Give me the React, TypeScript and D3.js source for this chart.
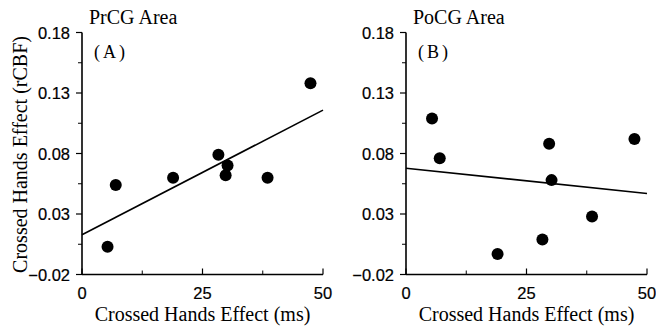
import React, { useRef, useEffect } from 'react';
import * as d3 from 'd3';

// crossed-hands effect (ms) per subject, with rCBF effect for each area
const prcgX = [5.3, 7.0, 18.9, 28.3, 30.2, 29.8, 38.5, 47.4];
const prcgY = [0.003, 0.054, 0.06, 0.079, 0.07, 0.062, 0.06, 0.138];
const pocgX = [5.4, 7.0, 19.0, 28.3, 29.7, 30.2, 38.6, 47.4];
const pocgY = [0.109, 0.076, -0.003, 0.009, 0.088, 0.058, 0.028, 0.092];

const yMajor = [-0.02, 0.03, 0.08, 0.13, 0.18];
const yMinor = [0.005, 0.055, 0.105, 0.155];
const xMajor = [0, 25, 50];
const xMinor = [12.5, 37.5];

const panels = [
    { title: 'PrCG Area', tag: 'A', xs: prcgX, ys: prcgY, left: 82, yLabel: true },
    { title: 'PoCG Area', tag: 'B', xs: pocgX, ys: pocgY, left: 406, yLabel: false },
];

const fit = (xs: number[], ys: number[]) => {
    const mx = d3.mean(xs)!;
    const my = d3.mean(ys)!;
    const sxy = d3.sum(xs, (x, i) => (x - mx) * (ys[i] - my));
    const sxx = d3.sum(xs, x => (x - mx) * (x - mx));
    const b = sxy / sxx;
    return { a: my - b * mx, b };
};

export default function App() {
    const svgRef = useRef<SVGSVGElement | null>(null);

    useEffect(() => {
        if (!svgRef.current) return;
        const svg = d3.select(svgRef.current);
        svg.selectAll('*').remove();

        const serif = 'Liberation Serif, Times New Roman, serif';
        const sans = 'Liberation Sans, Arial, Helvetica, sans-serif';
        const plotW = 241;
        const top = 32.5;
        const bottom = 274.5;

        panels.forEach(p => {
            const x = d3.scaleLinear().domain([0, 50]).range([p.left, p.left + plotW]);
            const y = d3.scaleLinear().domain([-0.02, 0.18]).range([bottom, top]);
            const g = svg.append('g');

            // axes lines
            g.append('line')
                .attr('x1', x(0)).attr('x2', x(0))
                .attr('y1', y(0.18)).attr('y2', y(-0.02))
                .attr('stroke', '#000').attr('stroke-width', 1.6);
            g.append('line')
                .attr('x1', x(0)).attr('x2', x(50))
                .attr('y1', y(-0.02)).attr('y2', y(-0.02))
                .attr('stroke', '#000').attr('stroke-width', 1.6);

            // y ticks (outward)
            g.selectAll('.ymaj').data(yMajor).join('line')
                .attr('x1', x(0) - 6).attr('x2', x(0))
                .attr('y1', d => y(d)).attr('y2', d => y(d))
                .attr('stroke', '#000').attr('stroke-width', 1.2);
            g.selectAll('.ymin').data(yMinor).join('line')
                .attr('x1', x(0) - 4).attr('x2', x(0))
                .attr('y1', d => y(d)).attr('y2', d => y(d))
                .attr('stroke', '#000').attr('stroke-width', 1);
            g.selectAll('.ylab').data(yMajor).join('text')
                .attr('x', x(0) - 12).attr('y', d => y(d) + 6)
                .attr('text-anchor', 'end')
                .attr('font-family', sans).attr('font-size', 16.5)
                .attr('stroke', '#000').attr('stroke-width', 0.2)
                .text(d => d3.format('.2f')(d));

            // x ticks (inward)
            g.selectAll('.xmaj').data(xMajor).join('line')
                .attr('x1', d => x(d)).attr('x2', d => x(d))
                .attr('y1', y(-0.02)).attr('y2', y(-0.02) - 6)
                .attr('stroke', '#000').attr('stroke-width', 1.2);
            g.selectAll('.xmin').data(xMinor).join('line')
                .attr('x1', d => x(d)).attr('x2', d => x(d))
                .attr('y1', y(-0.02)).attr('y2', y(-0.02) - 4)
                .attr('stroke', '#000').attr('stroke-width', 1);
            g.selectAll('.xlab').data(xMajor).join('text')
                .attr('x', d => x(d)).attr('y', 299)
                .attr('text-anchor', 'middle')
                .attr('font-family', sans).attr('font-size', 16.5)
                .attr('stroke', '#000').attr('stroke-width', 0.2)
                .text(d => String(d));

            // axis title
            g.append('text')
                .attr('x', x(25)).attr('y', 321)
                .attr('text-anchor', 'middle')
                .attr('font-family', serif).attr('font-size', 20)
                .text('Crossed Hands Effect (ms)');

            if (p.yLabel) {
                g.append('text')
                    .attr('transform', `translate(27, ${(top + bottom) / 2 + 1}) rotate(-90)`)
                    .attr('text-anchor', 'middle')
                    .attr('font-family', serif).attr('font-size', 20)
                    .text('Crossed Hands Effect (rCBF)');
            }

            // title and tag
            g.append('text')
                .attr('x', x(0) + 7).attr('y', 24)
                .attr('font-family', serif).attr('font-size', 20)
                .text(p.title);
            const tag = g.append('text')
                .attr('x', x(0) + 12).attr('y', 58)
                .attr('font-family', serif).attr('font-size', 18);
            tag.append('tspan').text('(');
            tag.append('tspan').attr('dx', 3).text(p.tag);
            tag.append('tspan').attr('dx', 3).text(')');

            // regression line
            const { a, b } = fit(p.xs, p.ys);
            g.append('line')
                .attr('x1', x(0)).attr('y1', y(a))
                .attr('x2', x(50)).attr('y2', y(a + b * 50))
                .attr('stroke', '#000').attr('stroke-width', 1.6);

            // points
            g.selectAll('circle').data(p.xs).join('circle')
                .attr('cx', d => x(d))
                .attr('cy', (d, i) => y(p.ys[i]))
                .attr('r', 6)
                .attr('fill', '#000');
        });
    }, []);

    return (
        <svg ref={svgRef} width={656} height={329}
            style={{ position: 'absolute', left: 0, top: 0, background: '#fff' }} />
    );
}
